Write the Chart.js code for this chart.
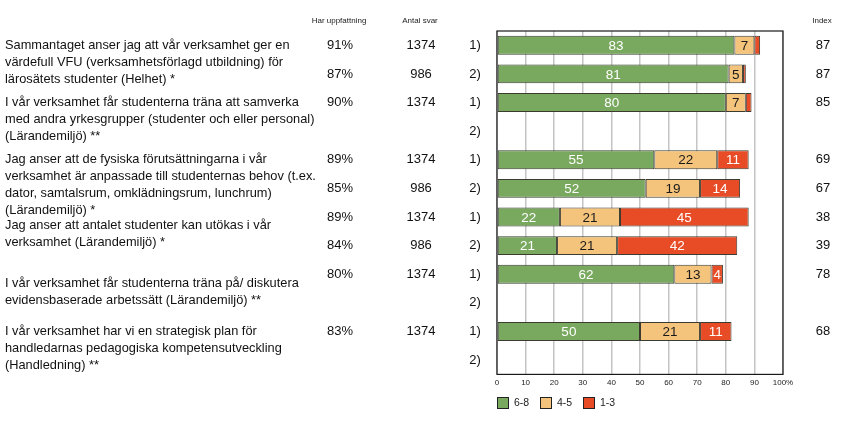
<!DOCTYPE html>
<html lang="sv">
<head>
    <meta charset="UTF-8">
    <title>VFU enkät</title>
    <style>
        body { margin: 0; background: #fff; }
        #wrap { width: 852px; height: 422px; position: relative; }
    </style>
    <script src="https://cdn.jsdelivr.net/npm/chart.js@4.4.1/dist/chart.umd.min.js"></script>
</head>
<body>
<div id="wrap"><canvas id="chart" width="852" height="422"></canvas></div>
<script>
    // one entry per bar row (two rows per question, some empty)
    const rowMarks = ['1)', '2)', '1)', '2)', '1)', '2)', '1)', '2)', '1)', '2)', '1)', '2)'];
    const green = [83, 81, 80, null, 55, 52, 22, 21, 62, null, 50, null];
    const tan   = [7, 5, 7, null, 22, 19, 21, 21, 13, null, 21, null];
    const red   = [2, 1, 2, null, 11, 14, 45, 42, 4, null, 11, null];
    const harUppfattning = ['91%', '87%', '90%', '', '89%', '85%', '89%', '84%', '80%', '', '83%', ''];
    const antalSvar = ['1374', '986', '1374', '', '1374', '986', '1374', '986', '1374', '', '1374', ''];
    const indexValues = ['87', '87', '85', '', '69', '67', '38', '39', '78', '', '68', ''];
    const seriesNames = ['6-8', '4-5', '1-3'];
    const xTicks = [0, 10, 20, 30, 40, 50, 60, 70, 80, 90, 100];

    const questions = [
        ['Sammantaget anser jag att vår verksamhet ger en', 'värdefull VFU (verksamhetsförlagd utbildning) för', 'lärosätets studenter (Helhet) *'],
        ['I vår verksamhet får studenterna träna att samverka', 'med andra yrkesgrupper (studenter och eller personal)', '(Lärandemiljö) **'],
        ['Jag anser att de fysiska förutsättningarna i vår', 'verksamhet är anpassade till studenternas behov (t.ex.', 'dator, samtalsrum, omklädningsrum, lunchrum)', '(Lärandemiljö) *'],
        ['Jag anser att antalet studenter kan utökas i vår', 'verksamhet (Lärandemiljö) *'],
        ['I vår verksamhet får studenterna träna på/ diskutera', 'evidensbaserade arbetssätt (Lärandemiljö) **'],
        ['I vår verksamhet har vi en strategisk plan för', 'handledarnas pedagogiska kompetensutveckling', '(Handledning) **']
    ];

    const colors = ['#79a85f', '#f5c47c', '#e84c26'];
    const labelColors = ['#ffffff', '#1a1a1a', '#ffffff'];
    const FONT = 'Arial, "Liberation Sans", sans-serif';

    // labels inside the bar segments
    const segmentLabels = {
        id: 'segmentLabels',
        afterDatasetsDraw(chart) {
            const ctx = chart.ctx;
            ctx.save();
            ctx.font = '13.5px ' + FONT;
            ctx.textAlign = 'center';
            ctx.textBaseline = 'middle';
            chart.data.datasets.forEach((ds, di) => {
                const meta = chart.getDatasetMeta(di);
                meta.data.forEach((bar, i) => {
                    const v = ds.data[i];
                    if (v == null || v < 4) return;
                    const cx = (bar.x + bar.base) / 2;
                    ctx.fillStyle = labelColors[di];
                    ctx.fillText(v, cx, bar.y + 1);
                });
            });
            ctx.restore();
        }
    };

    // table text, frame and legend
    const tableText = {
        id: 'tableText',
        afterDraw(chart) {
            const ctx = chart.ctx;
            const area = chart.chartArea;
            const y = chart.scales.y;
            ctx.save();

            // frame
            ctx.strokeStyle = '#1a1a1a';
            ctx.lineWidth = 1.2;
            ctx.strokeRect(area.left, area.top, area.right - area.left, area.bottom - area.top);

            // headers
            ctx.fillStyle = '#222';
            ctx.font = '8px ' + FONT;
            ctx.textAlign = 'center';
            ctx.textBaseline = 'middle';
            ctx.fillText('Har uppfattning', 339, 21);
            ctx.fillText('Antal svar', 420, 21);
            ctx.fillText('Index', 822, 21);

            // columns per row
            ctx.font = '13px ' + FONT;
            ctx.fillStyle = '#111';
            rowMarks.forEach((m, i) => {
                const py = y.getPixelForValue(i);
                ctx.textAlign = 'center';
                ctx.fillText(harUppfattning[i], 340, py);
                ctx.fillText(antalSvar[i], 421, py);
                ctx.fillText(indexValues[i], 823, py);
                ctx.fillText(m, 475, py);
            });

            // question texts
            ctx.textAlign = 'left';
            ctx.font = '12.8px ' + FONT;
            questions.forEach((lines, q) => {
                const first = y.getPixelForValue(q * 2);
                const mid = (first + y.getPixelForValue(q * 2 + 1)) / 2;
                let ty = Math.max(mid - (lines.length - 1) * 17 / 2 + 3, first);
                lines.forEach(line => {
                    ctx.fillText(line, 5, ty);
                    ty += 17;
                });
            });

            // legend
            ctx.font = '10.5px ' + FONT;
            let lx = area.left;
            seriesNames.forEach((name, i) => {
                ctx.fillStyle = colors[i];
                ctx.fillRect(lx, 397, 12, 12);
                ctx.strokeStyle = '#222';
                ctx.lineWidth = 1;
                ctx.strokeRect(lx + 0.5, 397.5, 11, 11);
                ctx.fillStyle = '#222';
                ctx.fillText(name, lx + 17, 403.5);
                lx += 43;
            });
            ctx.restore();
        }
    };

    new Chart(document.getElementById('chart'), {
        type: 'bar',
        data: {
            labels: rowMarks,
            datasets: seriesNames.map((name, i) => ({
                label: name,
                data: [green, tan, red][i],
                backgroundColor: colors[i],
                borderColor: '#3b3b30',
                borderWidth: 1,
                borderSkipped: false,
                categoryPercentage: 1,
                barPercentage: 0.66
            }))
        },
        options: {
            indexAxis: 'y',
            responsive: false,
            animation: false,
            layout: { padding: { left: 497, right: 69, top: 31, bottom: 30 } },
            plugins: { legend: { display: false }, tooltip: { enabled: false } },
            scales: {
                x: {
                    stacked: true,
                    min: 0,
                    max: 100,
                    afterBuildTicks: axis => { axis.ticks = xTicks.map(v => ({ value: v })); },
                    ticks: {
                        padding: 4,
                        maxRotation: 0,
                        autoSkip: false,
                        color: '#222',
                        font: { size: 8, family: FONT },
                        callback: v => v === 100 ? '100%' : v
                    },
                    grid: { color: '#c4c4c4', lineWidth: 1.5, drawTicks: false },
                    border: { display: false }
                },
                y: {
                    stacked: true,
                    display: false
                }
            }
        },
        plugins: [segmentLabels, tableText]
    });
</script>
</body>
</html>
